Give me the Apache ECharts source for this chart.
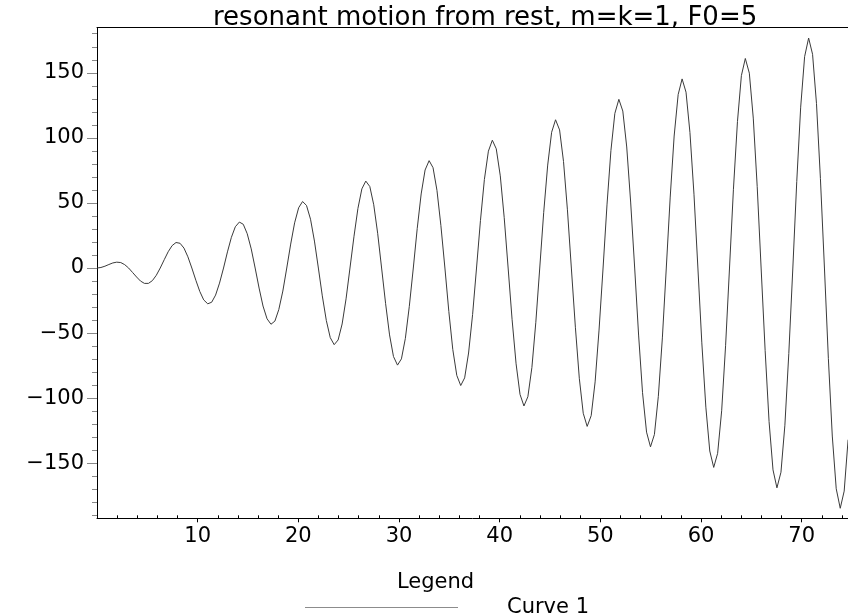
<!DOCTYPE html>
<html>
<head>
<meta charset="utf-8">
<script src="https://cdn.jsdelivr.net/npm/echarts@6/dist/echarts.min.js"></script>
<style>html,body{margin:0;padding:0;background:#fff}#c{width:848px;height:613px}</style>
</head>
<body>
<div id="c"></div>
<script>
var titleText = 'resonant motion from rest, m=k=1, F0=5';
var legendTitle = 'Legend';
var seriesName = 'Curve 1';
var tVals = [0,0.39,0.79,1.18,1.57,1.96,2.36,2.75,3.14,3.53,3.93,4.32,4.71,5.11,5.50,5.89,
6.28,6.68,7.07,7.46,7.85,8.25,8.64,9.03,9.42,9.82,10.21,10.60,11.00,11.39,11.78,12.17,
12.57,12.96,13.35,13.74,14.14,14.53,14.92,15.32,15.71,16.10,16.49,16.89,17.28,17.67,18.06,18.46,
18.85,19.24,19.63,20.03,20.42,20.81,21.21,21.60,21.99,22.38,22.78,23.17,23.56,23.95,24.35,24.74,
25.13,25.53,25.92,26.31,26.70,27.10,27.49,27.88,28.27,28.67,29.06,29.45,29.85,30.24,30.63,31.02,
31.42,31.81,32.20,32.59,32.99,33.38,33.77,34.16,34.56,34.95,35.34,35.74,36.13,36.52,36.91,37.31,
37.70,38.09,38.48,38.88,39.27,39.66,40.06,40.45,40.84,41.23,41.63,42.02,42.41,42.80,43.20,43.59,
43.98,44.37,44.77,45.16,45.55,45.95,46.34,46.73,47.12,47.52,47.91,48.30,48.69,49.09,49.48,49.87,
50.27,50.66,51.05,51.44,51.84,52.23,52.62,53.01,53.41,53.80,54.19,54.59,54.98,55.37,55.76,56.16,
56.55,56.94,57.33,57.73,58.12,58.51,58.90,59.30,59.69,60.08,60.48,60.87,61.26,61.65,62.05,62.44,
62.83,63.22,63.62,64.01,64.40,64.80,65.19,65.58,65.97,66.37,66.76,67.15,67.54,67.94,68.33,68.72,
69.12,69.51,69.90,70.29,70.69,71.08,71.47,71.86,72.26,72.65,73.04,73.43,73.83,74.22,74.61];
var xVals = [0,0.4,1.4,2.7,3.9,4.5,4.2,2.6,0,-3.4,-6.9,-10.0,-11.8,-11.8,-9.7,-5.6,
0,6.4,12.5,17.2,19.6,19.0,15.3,8.6,0,-9.4,-18.0,-24.5,-27.5,-26.3,-20.8,-11.6,
0,12.4,23.6,31.7,35.3,33.6,26.4,14.7,0,-15.4,-29.2,-39.0,-43.2,-40.8,-31.9,-17.7,
0,18.4,34.7,46.3,51.1,48.1,37.5,20.7,0,-21.4,-40.3,-53.5,-58.9,-55.3,-43.0,-23.7,
0,24.4,45.8,60.8,66.8,62.6,48.6,26.7,0,-27.4,-51.4,-68.0,-74.6,-69.8,-54.1,-29.7,
0,30.4,56.9,75.3,82.5,77.1,59.7,32.7,0,-33.4,-62.5,-82.5,-90.3,-84.4,-65.3,-35.7,
0,36.4,68.0,89.8,98.2,91.6,70.8,38.7,0,-39.4,-73.6,-97.1,-106.0,-98.9,-76.4,-41.7,
0,42.5,79.1,104.3,113.9,106.1,81.9,44.7,0,-45.5,-84.7,-111.6,-121.7,-113.4,-87.5,-47.7,
0,48.5,90.2,118.8,129.6,120.6,93.0,50.7,0,-51.5,-95.8,-126.1,-137.4,-127.9,-98.6,-53.7,
0,54.5,101.4,133.3,145.3,135.1,104.1,56.7,0,-57.5,-106.9,-140.6,-153.2,-142.4,-109.7,-59.7,
0,60.5,112.5,147.8,161.0,149.7,115.2,62.7,0,-63.5,-118.0,-155.1,-168.9,-156.9,-120.8,-65.7,
0,66.5,123.6,162.4,176.7,164.2,126.3,68.8,0,-69.5,-129.1,-169.6,-184.6,-171.4,-131.9];
var xMajorTicks = [10,20,30,40,50,60,70];
var xMinorTicks = [2,4,6,8,12,14,16,18,22,24,26,28,32,34,36,38,42,44,46,48,52,54,56,58,62,64,66,68,72,74];
var yMajorTicks = [-150,-100,-50,0,50,100,150];
var yMinorTicks = [-190,-180,-170,-160,-140,-130,-120,-110,-90,-80,-70,-60,-40,-30,-20,-10,10,20,30,40,60,70,80,90,110,120,130,140,160,170,180];
var xRange = [0, 74.6];
var yRange = [-192.3, 184.8];

var pts = tVals.map(function (t, i) { return [t, xVals[i]]; });
var FONT = 'DejaVu Sans';
function fmt(v) { return v < 0 ? '\u2212' + (-v) : String(v); }

var chart = echarts.init(document.getElementById('c'), null, {renderer: 'canvas'});
chart.setOption({
  animation: false,
  backgroundColor: '#fff',
  title: [
    {text: titleText, left: 208, top: 0, textStyle: {fontFamily: FONT, fontSize: 26, fontWeight: 'normal', color: '#000'}},
    {text: legendTitle, left: 392, top: 567, textStyle: {fontFamily: FONT, fontSize: 21, fontWeight: 'normal', color: '#000'}}
  ],
  legend: {
    data: [seriesName], left: 300, top: 592, icon: 'rect', itemWidth: 153, itemHeight: 1,
    itemStyle: {color: '#8c8c8c', borderWidth: 0},
    textStyle: {fontFamily: FONT, fontSize: 21, color: '#000', padding: [0, 0, 0, 44]}
  },
  grid: {left: 97, right: 0, top: 27.5, bottom: 94.7, containLabel: false},
  xAxis: [
    {type: 'value', position: 'bottom', min: xRange[0], max: xRange[1],
     axisLine: {show: true, onZero: false, lineStyle: {color: '#000', width: 1}},
     axisTick: {show: true, inside: true, length: 3, customValues: xMinorTicks, lineStyle: {color: '#000'}},
     axisLabel: {show: false}, splitLine: {show: false}},
    {type: 'value', position: 'top', min: xRange[0], max: xRange[1],
     axisLine: {show: true, onZero: false, lineStyle: {color: '#000', width: 1}},
     axisTick: {show: false}, axisLabel: {show: false}, splitLine: {show: false}},
    {type: 'value', position: 'bottom', min: xRange[0], max: xRange[1],
     axisLine: {show: false, onZero: false},
     axisTick: {show: true, inside: false, length: 4, customValues: xMajorTicks, lineStyle: {color: '#000'}},
     axisLabel: {show: true, customValues: xMajorTicks, margin: 8, fontFamily: FONT, fontSize: 21, color: '#000', formatter: fmt},
     splitLine: {show: false}}
  ],
  yAxis: [
    {type: 'value', position: 'left', min: yRange[0], max: yRange[1],
     axisLine: {show: true, onZero: false, lineStyle: {color: '#000', width: 1}},
     axisTick: {show: true, inside: false, length: 5, customValues: yMinorTicks, lineStyle: {color: '#888'}},
     axisLabel: {show: false}, splitLine: {show: false}},
    {type: 'value', position: 'left', min: yRange[0], max: yRange[1],
     axisLine: {show: false, onZero: false},
     axisTick: {show: true, inside: false, length: 10, customValues: yMajorTicks, lineStyle: {color: '#888'}},
     axisLabel: {show: true, customValues: yMajorTicks, margin: 13, fontFamily: FONT, fontSize: 21, color: '#000', formatter: fmt},
     splitLine: {show: false}}
  ],
  series: [{
    name: seriesName, type: 'line', xAxisIndex: 0, yAxisIndex: 0, data: pts,
    showSymbol: false, symbol: 'none', smooth: false,
    lineStyle: {color: '#3a3a3a', width: 1}, itemStyle: {color: '#3a3a3a'}
  }]
});
</script>
</body>
</html>
